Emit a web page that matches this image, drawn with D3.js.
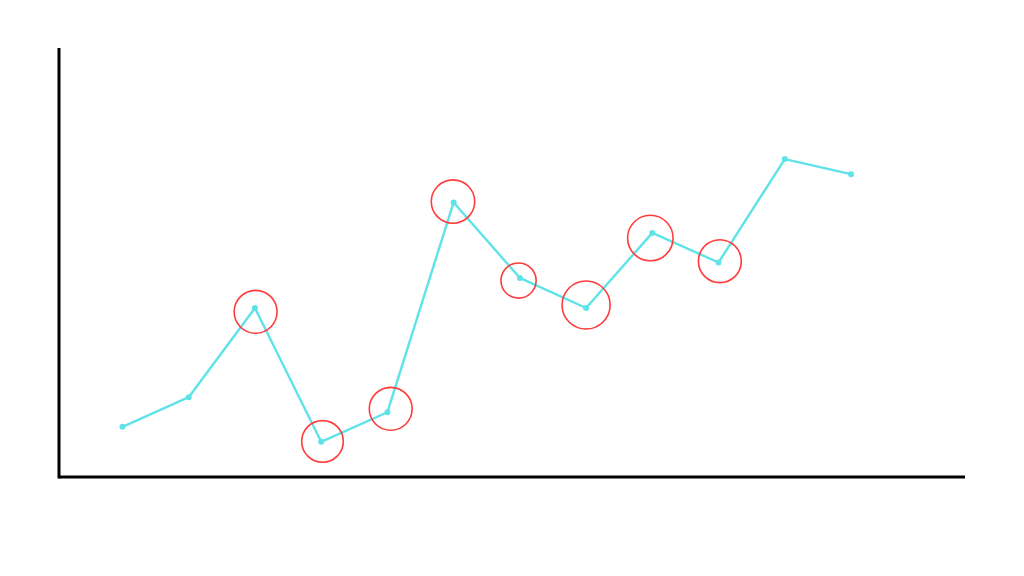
<!DOCTYPE html>
<html><head><meta charset="utf-8">
<script src="https://cdn.jsdelivr.net/npm/d3@7"></script>
<style>html,body{margin:0;padding:0;background:#fff;}svg{display:block;}</style>
</head><body>
<svg id="c" width="1024" height="576"></svg>
<script>
// Data
const categories = [0,1,2,3,4,5,6,7,8,9,10,11];
const values = [11.7, 18.6, 39.4, 8.2, 15.1, 64.0, 46.4, 39.4, 56.9, 50.0, 74.1, 70.6];
// Highlight rings (centre in index/value units, radius in value units)
const ringIndex = [2.01, 3.02, 4.05, 4.99, 5.98, 7.0, 7.97, 9.02];
const ringValue = [38.5, 8.3, 15.9, 64.2, 45.8, 40.1, 55.7, 50.3];
const ringSize  = [5.0, 4.85, 5.0, 5.06, 4.1, 5.6, 5.3, 5.0];

const svg = d3.select("#c");
const x = d3.scaleLinear().domain([0, 11]).range([122.5, 851]);
const y = d3.scaleLinear().domain([0, 100]).range([477, 48]);

// axes
const xAxis = d3.axisBottom(x).tickValues([]).tickSizeOuter(0);
const yAxis = d3.axisLeft(y).tickValues([]).tickSizeOuter(0);
const gx = svg.append("g").attr("transform","translate(0,477)").call(xAxis);
gx.select(".domain").attr("d","M59,0H965").attr("stroke","#000").attr("stroke-width",3);
const gy = svg.append("g").attr("transform","translate(59,0)").call(yAxis);
gy.select(".domain").attr("d","M0,48V478.5").attr("stroke","#000").attr("stroke-width",3);

// line
const pts = categories.map((c,i)=>({c, v: values[i]}));
svg.append("path").datum(pts)
  .attr("fill","none").attr("stroke","#5fe3e8").attr("stroke-width",2.4)
  .attr("stroke-linejoin","round")
  .attr("d", d3.line().x(d=>x(d.c)).y(d=>y(d.v)));
svg.selectAll(".dot").data(pts).enter().append("circle")
  .attr("cx",d=>x(d.c)).attr("cy",d=>y(d.v)).attr("r",3)
  .attr("fill","#5fe3e8");

// rings
const rings = ringIndex.map((c,i)=>({c, v: ringValue[i], s: ringSize[i]}));
svg.selectAll(".ring").data(rings).enter().append("circle")
  .attr("cx",d=>x(d.c)).attr("cy",d=>y(d.v))
  .attr("r",d=>y(0)-y(d.s))
  .attr("fill","none").attr("stroke","#ff3b3b").attr("stroke-width",1.6);
</script>
</body></html>
